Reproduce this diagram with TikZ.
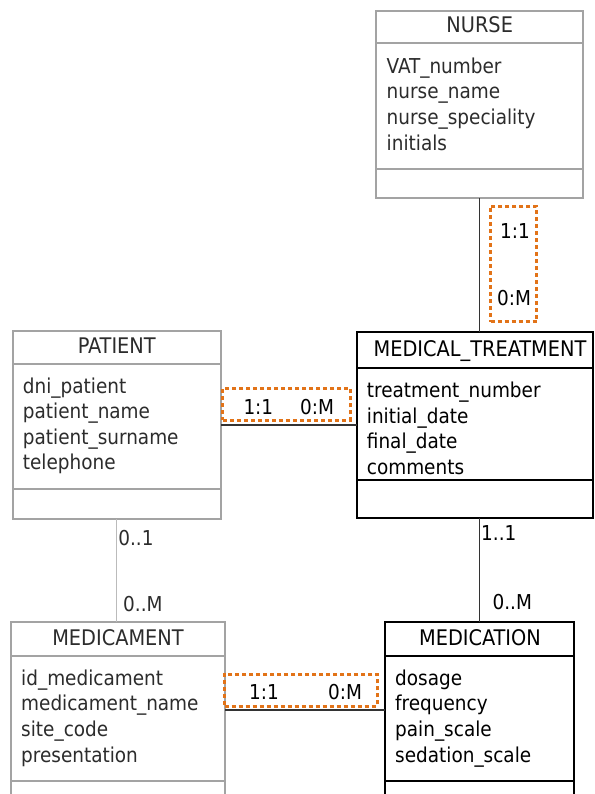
\documentclass[tikz,border=0pt]{standalone}
\usepackage{fontspec}
\setmainfont{DejaVu Sans Condensed}
\definecolor{boxgray}{HTML}{A3A3A3}
\definecolor{txtgray}{HTML}{2C2C2C}
\definecolor{lightlink}{HTML}{BBBBBB}
\definecolor{darklink}{HTML}{333333}
\definecolor{cardorange}{HTML}{E27318}
\tikzset{
  ent/.style={rectangle, line width=2pt, inner sep=0pt, outer sep=0pt},
  graybox/.style={ent, draw=boxgray},
  blackbox/.style={ent, draw=black},
  grayrule/.style={line width=2pt, draw=boxgray},
  blackrule/.style={line width=2pt, draw=black},
  ttl/.style={anchor=base, inner sep=0pt, font=\fontsize{21.5}{24}\selectfont},
  attr/.style={anchor=base west, inner sep=0pt},
  card/.style={anchor=base west, inner sep=0pt},
  linkdark/.style={line width=1.3pt, draw=darklink},
  linklight/.style={line width=1.3pt, draw=lightlink},
  cardbox/.style={rectangle, draw=cardorange, line width=3pt, dash pattern=on 4pt off 3pt, inner sep=0pt, outer sep=0pt},
  every node/.style={font=\fontsize{20.5}{24}\selectfont}
}
\begin{document}
\begin{tikzpicture}[x=1pt,y=-1pt]
\useasboundingbox (0,0) rectangle (594,794);
\clip (0,0) rectangle (594,794);
\fill[white] (0,0) rectangle (594,794);

% ---------- NURSE
\node[graybox, minimum width=206.5pt, minimum height=187.8pt] (nurse) at (479.7,104.6) {};
\draw[grayrule] (nurse.west |- 0,43.3) -- (nurse.east |- 0,43.3);
\draw[grayrule] (nurse.west |- 0,169.3) -- (nurse.east |- 0,169.3);
\node[ttl, text=txtgray] (nurset) at (479.7,33) {NURSE};
\begin{scope}[every node/.append style={attr, text=txtgray}]
\node (nursea1) at (386.5,73.3) {VAT\_number};
\node (nursea2) at (386.5,99) {nurse\_name};
\node (nursea3) at (386.5,124.6) {nurse\_speciality};
\node (nursea4) at (386.5,150.2) {initials};
\end{scope}

% ---------- PATIENT
\node[graybox, minimum width=208.3pt, minimum height=188pt] (patient) at (116.8,425) {};
\draw[grayrule] (patient.west |- 0,363.7) -- (patient.east |- 0,363.7);
\draw[grayrule] (patient.west |- 0,489) -- (patient.east |- 0,489);
\node[ttl, text=txtgray] (patientt) at (116.8,353.3) {PATIENT};
\begin{scope}[every node/.append style={attr, text=txtgray}]
\node (patienta1) at (22.7,393.3) {dni\_patient};
\node (patienta2) at (22.7,418.9) {patient\_name};
\node (patienta3) at (22.7,444.4) {patient\_surname};
\node (patienta4) at (22.7,469.8) {telephone};
\end{scope}

% ---------- MEDICAL_TREATMENT
\node[blackbox, minimum width=236pt, minimum height=186.6pt] (mt) at (474.7,425) {};
\draw[blackrule] (mt.west |- 0,368.3) -- (mt.east |- 0,368.3);
\draw[blackrule] (mt.west |- 0,480) -- (mt.east |- 0,480);
\node[ttl, text=black] (mtt) at (480,356) {MEDICAL\_TREATMENT};
\begin{scope}[every node/.append style={attr, text=black}]
\node (mta1) at (366.7,397.3) {treatment\_number};
\node (mta2) at (366.7,423) {initial\_date};
\node (mta3) at (366.7,448.6) {final\_date};
\node (mta4) at (366.7,474.2) {comments};
\end{scope}

% ---------- MEDICAMENT
\node[graybox, minimum width=214pt, minimum height=200pt] (medicament) at (118,722.3) {};
\draw[grayrule] (medicament.west |- 0,656) -- (medicament.east |- 0,656);
\draw[grayrule] (medicament.west |- 0,780.7) -- (medicament.east |- 0,780.7);
\node[ttl, text=txtgray] (medicamentt) at (118,645) {MEDICAMENT};
\begin{scope}[every node/.append style={attr, text=txtgray}]
\node (medicamenta1) at (21,685) {id\_medicament};
\node (medicamenta2) at (21,710.6) {medicament\_name};
\node (medicamenta3) at (21,736.4) {site\_code};
\node (medicamenta4) at (21,762.2) {presentation};
\end{scope}

% ---------- MEDICATION
\node[blackbox, minimum width=189pt, minimum height=200pt] (medication) at (479.5,722.3) {};
\draw[blackrule] (medication.west |- 0,656) -- (medication.east |- 0,656);
\draw[blackrule] (medication.west |- 0,780.7) -- (medication.east |- 0,780.7);
\node[ttl, text=black] (medicationt) at (480,645) {MEDICATION};
\begin{scope}[every node/.append style={attr, text=black}]
\node (medicationa1) at (395,685) {dosage};
\node (medicationa2) at (395,710.6) {frequency};
\node (medicationa3) at (395,736.4) {pain\_scale};
\node (medicationa4) at (395,762.2) {sedation\_scale};
\end{scope}

% ---------- connectors
\draw[linkdark] (nurse.south) -- (nurse.south |- mt.north);
\draw[linkdark] (patient.east) -- (patient.east -| mt.west);
\draw[linklight] (patient.south) -- (patient.south |- medicament.north);
\draw[linkdark] (medication.north) -- (medication.north |- mt.south);
\coordinate (mmlink) at (0,710);
\draw[linkdark] (medicament.east |- mmlink) -- (medication.west |- mmlink);

% ---------- cardinality boxes
\node[cardbox, minimum width=46pt, minimum height=115.7pt] (ob1) at (513.7,263.9) {};
\node[cardbox, minimum width=127.3pt, minimum height=31.7pt] (ob2) at (286.4,404.2) {};
\node[cardbox, minimum width=152.4pt, minimum height=32pt] (ob3) at (300.8,690) {};

\begin{scope}[every node/.append style={card, text=black}]
\node (c1) at (500,238.3) {1:1};
\node (c2) at (497,305) {0:M};
\node (c3) at (243.3,414) {1:1};
\node (c4) at (300,414) {0:M};
\node (c5) at (249,699.3) {1:1};
\node (c6) at (328,699.3) {0:M};
\node (c9) at (481,540.7) {1..1};
\node (c10) at (492.4,609.3) {0..M};
\end{scope}
\begin{scope}[every node/.append style={card, text=txtgray}]
\node (c7) at (118.2,545) {0..1};
\node (c8) at (123,611.7) {0..M};
\end{scope}
\end{tikzpicture}
\end{document}
